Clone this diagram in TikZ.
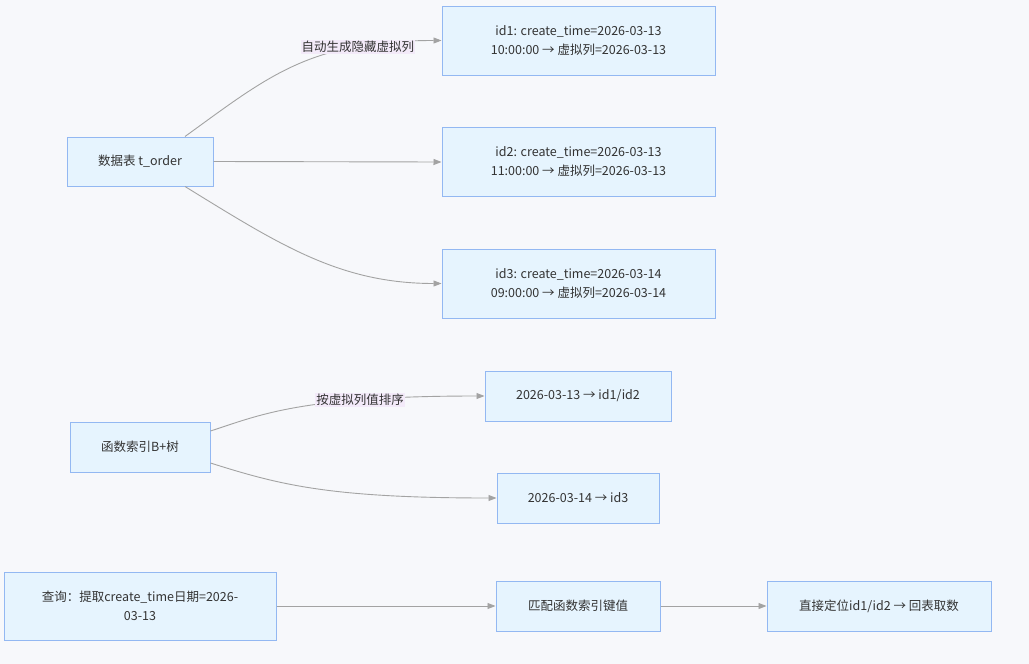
\documentclass[tikz,border=0pt]{standalone}
\usepackage{fontspec}
\setmainfont{Noto Sans CJK SC}
\usetikzlibrary{arrows.meta}
\definecolor{boxfill}{HTML}{E6F4FE}
\definecolor{boxline}{HTML}{93B8F2}
\definecolor{edgegray}{HTML}{A3A3A3}
\definecolor{lblfill}{HTML}{F3EAF9}
\definecolor{pagebg}{HTML}{F7F8FB}
\definecolor{txt}{HTML}{333333}
\tikzset{>={Triangle[length=8pt,width=6pt]}}
\tikzstyle{box}=[rectangle,draw=boxline,fill=boxfill,line width=1pt,align=center,text=txt,font=\fontsize{12.5}{19}\selectfont]
\tikzstyle{lbl}=[rectangle,fill=lblfill,inner sep=1pt,text=txt,font=\fontsize{12.5}{15}\selectfont]
\tikzstyle{flow}=[->,draw=edgegray,line width=0.9pt]

\begin{document}
\begin{tikzpicture}[x=1pt,y=1pt]
\fill[pagebg] (0,0) rectangle (1029,-664);
\useasboundingbox (0,0) rectangle (1029,-664);

% table rows
\node[box,minimum width=146pt,minimum height=49pt] (t_order) at (140,-161.5) {数据表 t\_order};
\node[box,minimum width=273pt,minimum height=69pt] (row1) at (578.5,-40.5) {id1: create\_time=2026-03-13\\10:00:00 → 虚拟列=2026-03-13};
\node[box,minimum width=273pt,minimum height=69pt] (row2) at (578.5,-162) {id2: create\_time=2026-03-13\\11:00:00 → 虚拟列=2026-03-13};
\node[box,minimum width=273pt,minimum height=69pt] (row3) at (578.5,-283.5) {id3: create\_time=2026-03-14\\09:00:00 → 虚拟列=2026-03-14};

% index
\node[box,minimum width=140pt,minimum height=50pt] (fidx) at (140,-447) {函数索引B+树};
\node[box,minimum width=186pt,minimum height=50pt] (key1) at (578,-396) {2026-03-13 → id1/id2};
\node[box,minimum width=162pt,minimum height=50pt] (key2) at (578,-498) {2026-03-14 → id3};

% query
\node[box,minimum width=272pt,minimum height=68pt] (query) at (140,-606) {查询：提取create\_time日期=2026-\\03-13};
\node[box,minimum width=164pt,minimum height=50pt] (match) at (578,-606) {匹配函数索引键值};
\node[box,minimum width=224pt,minimum height=50pt] (locate) at (879,-606) {直接定位id1/id2 → 回表取数};

\draw[flow] ([xshift=45pt]t_order.north) .. controls (270,-75) and (310,-40.5) .. (row1.west) node[lbl,pos=0.75] {自动生成隐藏虚拟列};
\draw[flow] (t_order.east) -- (row2.west);
\draw[flow] ([xshift=45pt]t_order.south) .. controls (280,-245) and (340,-283.5) .. (row3.west);

\draw[flow] ([yshift=16pt]fidx.east) .. controls (260,-415) and (300,-396) .. (key1.west) node[lbl,pos=0.72] {按虚拟列值排序};
\draw[flow] ([yshift=-16pt]fidx.east) .. controls (280,-485) and (330,-498) .. (key2.west);

\draw[flow] (query.east) -- (match.west);
\draw[flow] (match.east) -- (locate.west);
\end{tikzpicture}
\end{document}
